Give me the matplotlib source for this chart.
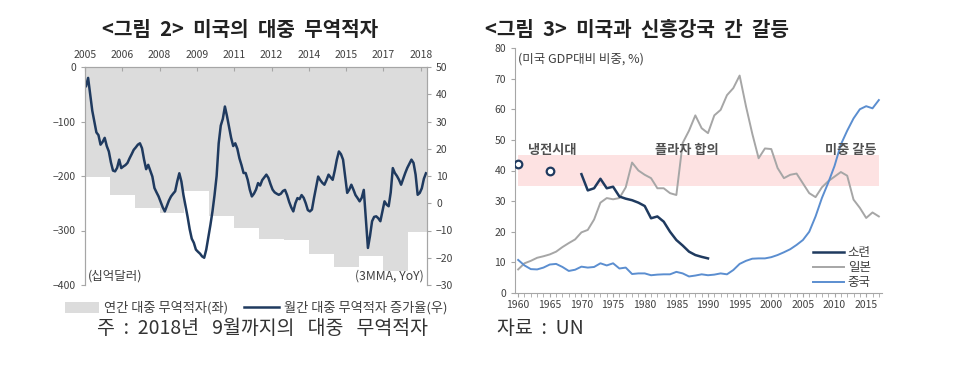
import numpy as np
import matplotlib
matplotlib.use("Agg")
import matplotlib.pyplot as plt
from matplotlib.patches import Patch
from matplotlib.lines import Line2D

plt.rcParams["font.family"] = ["Noto Sans CJK KR", "DejaVu Sans"]

# ---- figure 2: US trade deficit with China ----
deficit_years = list(range(2005, 2019))
annual_deficit = [-202, -234, -258, -268, -227, -273, -295, -315, -318, -344, -367, -347, -375, -302]
months_in_year = [12] * 13 + [9]

# monthly deficit growth, 3MMA YoY (%), Jan 2005 - Sep 2018
monthly_growth = [
    43, 46, 40, 34, 30, 26, 25, 21.5, 22.5, 24, 21, 19,
    15, 12, 11.7, 13, 16, 12.9, 13.5, 14, 14.8, 16.5, 18, 19.6,
    20.5, 21.5, 22, 20.2, 16, 12.5, 14.1, 12, 9.8, 5.6, 4, 2.5,
    0.5, -1.5, -3, -1, 1, 2.5, 3.5, 4.4, 8, 11, 8, 3,
    -1, -5, -9.5, -13, -14.5, -17, -17.8, -18.5, -19.5, -20, -17, -12.5,
    -8, -3, 3, 10, 22, 28.5, 31, 35.5, 32, 28, 24, 21,
    22, 20, 16.5, 14, 11.1, 11.1, 8.6, 5, 2.5, 3.5, 5, 7.4,
    6.5, 8.5, 9.5, 10.5, 9.3, 7, 5, 4, 3.5, 3.1, 3.5, 4.5,
    4.9, 3, 0.5, -1.5, -3, 0, 1.9, 1.5, 3, 2, 0, -2.5,
    -3, -2.3, 2, 6, 9.8, 8.5, 7.5, 6.8, 8.5, 10.5, 9.5, 8.6,
    12, 16, 19, 18, 16, 9.8, 3.8, 5, 6.8, 5, 3, 1.9,
    0.7, 2, 4.9, -6, -16.4, -12, -6.6, -5, -4.8, -5.5, -6.6, -3,
    0.7, -0.5, -1.1, 4, 12.9, 11.1, 10, 8.6, 6.8, 9, 11.1, 13,
    14.5, 16, 14.8, 10.5, 3.1, 3.8, 5.5, 9, 11,
]
top_tick_labels = ["2005", "2006", "2008", "2009", "2011", "2012", "2014", "2015", "2017", "2018"]

# ---- figure 3: GDP relative to US (%) ----
years = list(range(1960, 2018))
japan = [
    7.7, 9.7, 10.5, 11.5, 12.0, 12.6, 13.5, 15.0, 16.3, 17.5,
    19.8, 20.6, 24.0, 29.5, 31.0, 30.6, 31.0, 34.5, 42.6, 40.0,
    38.6, 37.5, 34.2, 34.2, 32.6, 32.0, 49.0, 53.0, 58.0, 53.8,
    52.2, 58.0, 59.8, 64.6, 66.9, 71.0, 61.0, 52.0, 44.0, 47.2,
    47.0, 40.8, 37.5, 38.6, 39.0, 35.8, 32.6, 31.3, 34.5, 36.5,
    38.0, 39.5, 38.3, 30.5, 27.8, 24.5, 26.3, 25.0,
]
china = [
    10.8, 9.0, 7.8, 7.7, 8.3, 9.3, 9.5, 8.5, 7.2, 7.6,
    8.6, 8.3, 8.5, 9.7, 9.0, 9.7, 8.0, 8.3, 6.2, 6.4,
    6.4, 5.8, 6.0, 6.1, 6.1, 6.9, 6.4, 5.4, 5.7, 6.1,
    5.8, 6.0, 6.4, 6.1, 7.5, 9.5, 10.5, 11.2, 11.3, 11.3,
    11.7, 12.4, 13.3, 14.3, 15.7, 17.3, 20.0, 25.0, 31.0, 36.0,
    41.5, 48.5, 53.0, 57.0, 60.0, 61.0, 60.3, 63.0,
]
ussr_years = list(range(1960, 1991))
ussr = [
    42.0, np.nan, np.nan, np.nan, np.nan, 39.8, np.nan, np.nan, np.nan, np.nan,
    38.8, 33.5, 34.2, 37.3, 34.2, 34.7, 31.5, 30.8, 30.3, 29.5,
    28.4, 24.4, 25.0, 23.3, 20.0, 17.3, 15.5, 13.5, 12.4, 11.8, 11.3,
]
band_low, band_high = 35, 45
annotations = [("냉전시대", 1965.4), ("플라자 합의", 1986.7), ("미중 갈등", 2012.6)]

navy = "#1F3A5F"
spine_gray = "#A6A6A6"
text_gray = "#404040"

fig = plt.figure(figsize=(9.74, 3.65), dpi=100)

# ================= left chart =================
ax = fig.add_axes([85 / 974, 1 - 285 / 365, 342 / 974, 218 / 365])
n_months = len(monthly_growth)
monthly_deficit = np.repeat(annual_deficit, months_in_year)
edges = np.arange(n_months + 1)
ax.fill_between(edges, 0, np.append(monthly_deficit, monthly_deficit[-1]),
                step="post", color="#DCDCDC", linewidth=0)
ax.set_xlim(0, n_months)
ax.set_ylim(-400, 0)
ax.set_yticks([0, -100, -200, -300, -400])
ax.xaxis.tick_top()
ax.set_xticks(list(range(0, n_months, 18)))
ax.set_xticklabels(top_tick_labels)
ax.set_xticks([n_months], minor=True)
ax.tick_params(axis="x", which="both", direction="in", length=3, pad=5,
               labelsize=7.5, colors=spine_gray, labelcolor=text_gray)
ax.tick_params(axis="y", direction="out", length=3, labelsize=7.5,
               colors=spine_gray, labelcolor=text_gray)
for s in ["top", "left", "right"]:
    ax.spines[s].set_color(spine_gray)
ax.spines["bottom"].set_visible(False)

ax_r = ax.twinx()
ax_r.plot(np.arange(n_months) + 0.5, monthly_growth, color=navy, linewidth=1.8)
ax_r.set_ylim(-30, 50)
ax_r.set_yticks(range(-30, 51, 10))
ax_r.tick_params(axis="y", direction="out", length=3, labelsize=7.5,
                 colors=spine_gray, labelcolor=text_gray)
for s in ["top", "left", "right"]:
    ax_r.spines[s].set_color(spine_gray)
ax_r.spines["bottom"].set_visible(False)

ax.text(0.008, 0.04, "(십억달러)", transform=ax.transAxes, fontsize=9,
        color=text_gray, va="center", ha="left")
ax.text(0.99, 0.04, "(3MMA, YoY)", transform=ax.transAxes, fontsize=8.8,
        color=text_gray, va="center", ha="right")

fig.text(240 / 974, 1 - 30 / 365, "<그림  2>  미국의  대중  무역적자", fontsize=14.5,
         fontweight="bold", ha="center", va="center", color="#222222")

left_handles = [Patch(facecolor="#DCDCDC", edgecolor="none"),
                Line2D([], [], color=navy, linewidth=1.8)]
fig.legend(left_handles, ["연간 대중 무역적자(좌)", "월간 대중 무역적자 증가율(우)"],
           loc="center", bbox_to_anchor=(256 / 974, 1 - 308 / 365), ncol=2,
           frameon=False, fontsize=9.5, labelcolor=text_gray, handlelength=2.6,
           handleheight=0.9, columnspacing=1.2, handletextpad=0.4)
fig.text(97 / 974, 1 - 329 / 365, "주  :  2018년   9월까지의   대중   무역적자",
         fontsize=14, ha="left", va="center", color="#333333")

# ================= right chart =================
ax2 = fig.add_axes([515 / 974, 1 - 293 / 365, 367 / 974, 245 / 365])
ax2.axhspan(band_low, band_high, xmin=(1960 - 1959.5) / 58, xmax=(2017 - 1959.5) / 58,
            color="#FDE2E2", linewidth=0, zorder=0)
ax2.plot(years, japan, color="#A6A6A6", linewidth=1.4, label="일본")
ax2.plot(years, china, color="#5B8ED0", linewidth=1.4, label="중국")
ax2.plot(ussr_years, ussr, color=navy, linewidth=1.8, label="소련")
ussr_arr = np.array(ussr)
isolated = [i for i in range(len(ussr_arr)) if not np.isnan(ussr_arr[i])
            and (i == 0 or np.isnan(ussr_arr[i - 1]))
            and (i == len(ussr_arr) - 1 or np.isnan(ussr_arr[i + 1]))]
ax2.scatter([ussr_years[i] for i in isolated], ussr_arr[isolated], s=30,
            facecolors="white", edgecolors=navy, linewidths=1.6, zorder=4)

ax2.set_xlim(1959.5, 2017.5)
ax2.set_ylim(0, 80)
ax2.set_yticks(range(0, 81, 10))
ax2.set_xticks(range(1960, 2016, 5))
ax2.set_xticks(years, minor=True)
ax2.tick_params(axis="both", which="both", direction="out", length=3,
                colors=spine_gray, labelcolor=text_gray, labelsize=7.5)
ax2.tick_params(axis="x", pad=2)
ax2.spines["top"].set_visible(False)
ax2.spines["right"].set_visible(False)
ax2.spines["left"].set_color(spine_gray)
ax2.spines["bottom"].set_color(spine_gray)

ax2.text(1960, 76.5, "(미국 GDP대비 비중, %)", fontsize=9, color=text_gray,
         ha="left", va="center")
for label, xpos in annotations:
    ax2.text(xpos, 46.8, label, fontsize=9.5, fontweight="bold", color="#505050",
             ha="center", va="center")

h, l = ax2.get_legend_handles_labels()
order = [2, 0, 1]
ax2.legend([h[i] for i in order], [l[i] for i in order], loc="lower right",
           bbox_to_anchor=(1.0, -0.03), frameon=False, fontsize=9,
           labelcolor=text_gray, handlelength=2.5, handletextpad=0.3,
           labelspacing=0.15)

fig.text(485 / 974, 1 - 30 / 365, "<그림  3>  미국과  신흥강국  간  갈등", fontsize=14.5,
         fontweight="bold", ha="left", va="center", color="#222222")
fig.text(497 / 974, 1 - 328 / 365, "자료  :  UN", fontsize=14,
         ha="left", va="center", color="#333333")

fig.savefig("out.png", dpi=100)
